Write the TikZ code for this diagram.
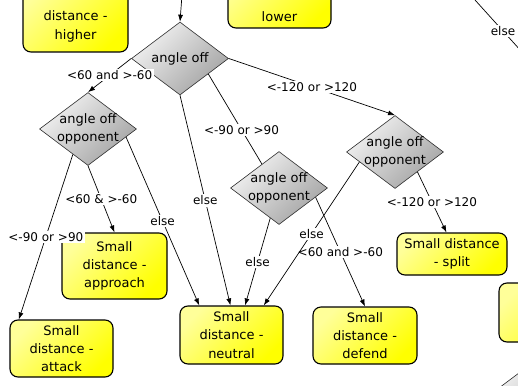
\documentclass[tikz,border=0pt]{standalone}
\usepackage{fontspec}
\setmainfont{DejaVu Sans}
\usetikzlibrary{shapes.geometric,arrows.meta,calc}
\begin{document}
\begin{tikzpicture}[x=1pt,y=-1pt,
  font=\fontsize{13}{18.3}\selectfont,
  box/.style={draw=black, line width=1.1pt, rounded corners=8pt, align=center, inner sep=0pt,
    top color=yellow!40, middle color=yellow, bottom color=yellow, shading angle=45},
  txt/.style={align=center, inner sep=0pt},
  dia/.style={diamond, draw=gray!35!black, line width=0.6pt, minimum width=97pt, minimum height=73pt,
    inner sep=-8pt, align=center, top color=gray!10, bottom color=gray!72, shading angle=45},
  conn/.style={draw=black, line width=0.7pt, -{Latex[length=7pt,width=5pt]}},
  plain/.style={draw=black, line width=0.7pt},
  lab/.style={fill=white, inner sep=1.5pt, font=\fontsize{12}{14}\selectfont}
]
\useasboundingbox (0,0) rectangle (518,385);
\fill[white] (0,0) rectangle (518,385);
\clip (0,0) rectangle (518,385);

% boxes
\node[box, minimum width=103pt, minimum height=57pt] (attack) at (61.5,348.5) {Small\\distance -\\attack};
\node[box, minimum width=105pt, minimum height=66pt] (approach) at (114.5,266) {Small\\distance -\\approach};
\node[box, minimum width=103pt, minimum height=58pt] (neutral) at (231.5,335) {Small\\distance -\\neutral};
\node[box, minimum width=104pt, minimum height=57pt] (defend) at (365,335.5) {Small\\distance -\\defend};
\node[box, minimum width=110pt, minimum height=42pt] (split) at (452,254) {Small distance\\- split};
\node[box, minimum width=105pt, minimum height=70pt] (higher) at (75.5,17) {};
\node[txt] (highertxt) at (75.5,26.5) {distance -\\higher};
\node[box, minimum width=103pt, minimum height=59pt] (lower) at (279.5,-1.5) {};
\node[txt] (lowertxt) at (279.5,17) {lower};
\node[box, minimum width=104pt, minimum height=59pt] (rbox) at (551,312.5) {};

% diamonds
\node[dia] (d1) at (180,58.5) {angle off};
\node[dia] (d2) at (88,129) {angle off\\opponent};
\node[dia] (d3) at (279,188) {angle off\\opponent};
\node[dia] (d4) at (395,152) {angle off\\opponent};
\node[dia] (d5) at (550,386) {};

% connectors
\coordinate (in1) at (182,-5);
\draw[conn] (in1) -- (d1.north);
\draw[conn] (d1.west) -- node[lab]{<60 and >-60} (d2.north);
\draw[conn] (d1.east) -- node[lab]{<-120 or >120} (d4.north);
\draw[plain] ($(d1.east)!0.42!(d1.south)$) -- node[lab,pos=0.62]{<-90 or >90} ($(d3.west)!0.65!(d3.north)$);
\draw[conn] (d1.south) -- node[lab]{else} ($(neutral.north west)!0.49!(neutral.north east)$);
\draw[conn] ($(d2.west)!0.69!(d2.south)$) -- node[lab]{<-90 or >90} ($(attack.north west)!0.09!(attack.north east)$);
\draw[conn] (d2.south) -- node[lab]{<60 \& >-60} (approach.north);
\draw[conn] ($(d2.east)!0.22!(d2.south)$) -- node[lab]{else} ($(neutral.north west)!0.19!(neutral.north east)$);
\draw[conn] ($(d3.south)!0.18!(d3.west)$) -- node[lab]{else} ($(neutral.north west)!0.63!(neutral.north east)$);
\draw[conn] ($(d3.east)!0.25!(d3.south)$) -- node[lab]{<60 and >-60} (defend.north);
\draw[conn] ($(d4.east)!0.54!(d4.south)$) -- node[lab]{<-120 or >120} ($(split.north west)!0.45!(split.north east)$);
\draw[conn] ($(d4.west)!0.27!(d4.south)$) -- node[lab]{else} ($(neutral.north west)!0.81!(neutral.north east)$);
\coordinate (tr1) at (475,0);
\coordinate (tr2) at (531,62);
\draw[plain] (tr1) -- node[lab]{else} (tr2);
\end{tikzpicture}
\end{document}
